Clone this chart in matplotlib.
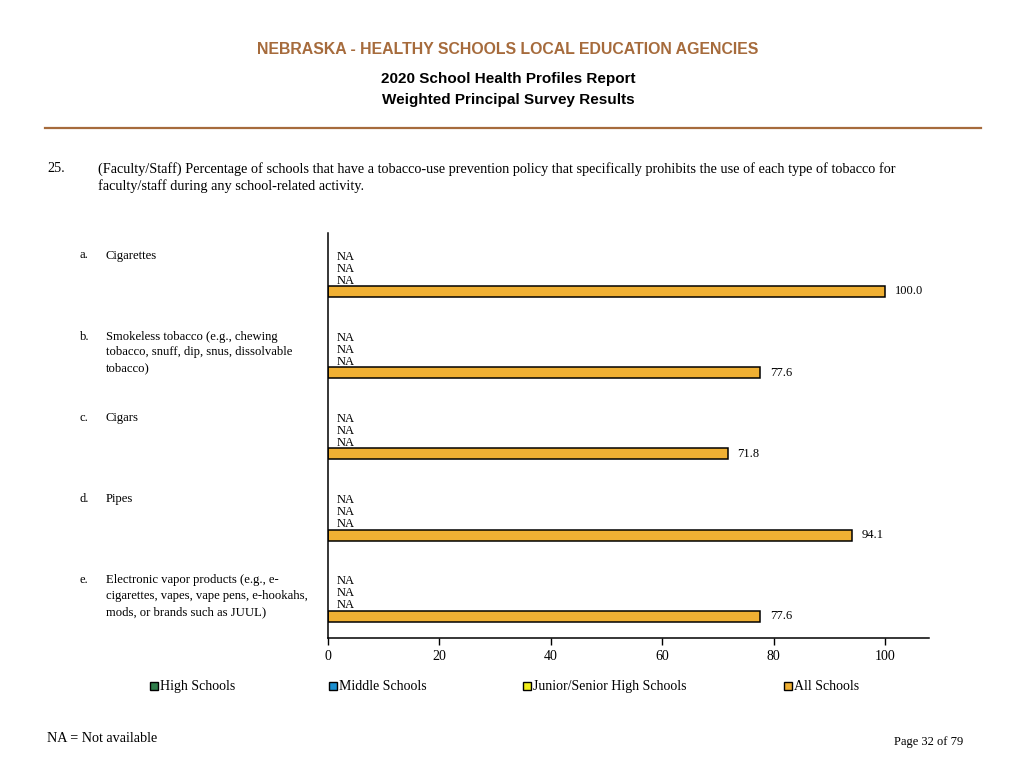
import numpy as np
import matplotlib
matplotlib.use("Agg")
import matplotlib.pyplot as plt
from matplotlib.patches import Rectangle

letters = ["a.", "b.", "c.", "d.", "e."]
categories = [
    "Cigarettes",
    "Smokeless tobacco (e.g., chewing\ntobacco, snuff, dip, snus, dissolvable\ntobacco)",
    "Cigars",
    "Pipes",
    "Electronic vapor products (e.g., e-\ncigarettes, vapes, vape pens, e-hookahs,\nmods, or brands such as JUUL)",
]
series_names = ["High Schools", "Middle Schools", "Junior/Senior High Schools", "All Schools"]
series_colors = ["#2E7D4A", "#1B8FD0", "#F2EE1A", "#F0B033"]
high = [np.nan, np.nan, np.nan, np.nan, np.nan]
middle = [np.nan, np.nan, np.nan, np.nan, np.nan]
junior = [np.nan, np.nan, np.nan, np.nan, np.nan]
all_schools = [100.0, 77.6, 71.8, 94.1, 77.6]
xticks = [0, 20, 40, 60, 80, 100]

W, H = 1024, 768
fig = plt.figure(figsize=(W / 100, H / 100), dpi=100)
serif = "Liberation Serif"
sans = "Liberation Sans"

def fx(px):
    return px / W

def fy(py):
    return 1 - py / H

# header
fig.text(fx(508), fy(50), "NEBRASKA - HEALTHY SCHOOLS LOCAL EDUCATION AGENCIES", ha="center", va="center",
         family=sans, weight="bold", fontsize=11.4, color="#A66B3C")
fig.text(fx(508), fy(79), "2020 School Health Profiles Report", ha="center", va="center",
         family=sans, weight="bold", fontsize=11, color="black")
fig.text(fx(508), fy(100), "Weighted Principal Survey Results", ha="center", va="center",
         family=sans, weight="bold", fontsize=11, color="black")
fig.add_artist(plt.Line2D([fx(45), fx(981)], [fy(128), fy(128)], color="#A66B3C", lw=1.6))

fig.text(fx(47), fy(169), "25.", ha="left", va="center", family=serif, fontsize=10.25)
fig.text(fx(98), fy(169), "(Faculty/Staff) Percentage of schools that have a tobacco-use prevention policy that specifically prohibits the use of each type of tobacco for",
         ha="left", va="center", family=serif, fontsize=10.25)
fig.text(fx(98), fy(186), "faculty/staff during any school-related activity.",
         ha="left", va="center", family=serif, fontsize=10.25)

# axes
ax_left, ax_right, ax_top, ax_bottom = 328, 929, 233, 638
ax = fig.add_axes([fx(ax_left), fy(ax_bottom), (ax_right - ax_left) / W, (ax_bottom - ax_top) / H])
slot = 12.0
total_slots = (ax_bottom - ax_top) / slot
first_all = (291.5 - ax_top) / slot
group_gap = 81.2 / slot
ax.set_ylim(total_slots, 0)
ax.set_xlim(0, (ax_right - ax_left) / 5.57)

data = [high, middle, junior, all_schools]
for g in range(len(categories)):
    base = first_all + g * group_gap
    for s in range(4):
        y = base - (3 - s)
        v = data[s][g]
        if np.isnan(v):
            ax.text(1.5, y + 0.1, "NA", ha="left", va="center", family=serif, fontsize=9)
        else:
            ax.barh(y, v, height=0.92, color=series_colors[s], edgecolor="black", linewidth=1.1)
            ax.text(v + 1.7, y, f"{v:.1f}", ha="left", va="center", family=serif, fontsize=9)
    # category labels
    top_px = ax_top + (base - 3) * slot - 6
    fig.text(fx(80), fy(top_px), letters[g], ha="left", va="top", family=serif, fontsize=9)
    fig.text(fx(106), fy(top_px), categories[g], ha="left", va="top", family=serif, fontsize=9.1,
             linespacing=1.42)

for sp in ["top", "right"]:
    ax.spines[sp].set_visible(False)
ax.spines["left"].set_linewidth(1.1)
ax.spines["bottom"].set_linewidth(1.1)
ax.set_yticks([])
ax.set_xticks(xticks)
ax.set_xticklabels([str(t) for t in xticks], family=serif, fontsize=10)
ax.tick_params(axis="x", length=5, width=1, pad=4)

# legend
leg_x = [155, 334, 528, 789]
for i, name in enumerate(series_names):
    fig.add_artist(Rectangle((fx(leg_x[i] - 5), fy(690)), 8 / W, 8 / H, facecolor=series_colors[i],
                             edgecolor="black", linewidth=1.0, transform=fig.transFigure))
    fig.text(fx(leg_x[i] + 5), fy(690), name, ha="left", va="baseline", family=serif, fontsize=10)

fig.text(fx(47), fy(739), "NA = Not available", ha="left", va="center", family=serif, fontsize=10.2)
fig.text(fx(963), fy(742), "Page 32 of 79", ha="right", va="center", family=serif, fontsize=9)

fig.savefig("out.png", dpi=100)
